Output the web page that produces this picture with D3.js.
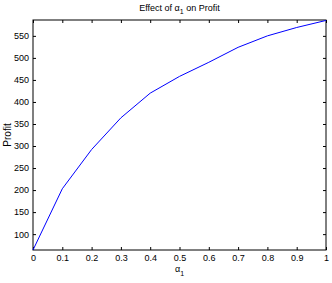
<!DOCTYPE html>
<html>
<head>
<meta charset="utf-8">
<script src="https://cdn.jsdelivr.net/npm/d3@7"></script>
<style>
  body { margin: 0; background: #fff; }
  text { font-family: "Liberation Sans", Arial, sans-serif; }
</style>
</head>
<body>
<svg id="drawing_region"></svg>
<script>
// values
const alpha = [0, 0.1, 0.2, 0.3, 0.4, 0.5, 0.6, 0.7, 0.8, 0.9, 1.0];
const profit = [64, 203, 292, 364, 420, 458, 490, 524, 550, 569, 585];
const xTicks = [0, 0.1, 0.2, 0.3, 0.4, 0.5, 0.6, 0.7, 0.8, 0.9, 1];
const yTicks = [100, 150, 200, 250, 300, 350, 400, 450, 500, 550];

const width = 332, height = 283;
const margin = { top: 20, right: 6, bottom: 33, left: 33 };

const svg = d3.select('#drawing_region')
    .attr('width', width)
    .attr('height', height)
    .style('display', 'block');

const inner_width = width - margin.left - margin.right;
const inner_height = height - margin.top - margin.bottom;

const chart = svg.append('g')
    .attr('transform', `translate(${margin.left}, ${margin.top})`);

const xscale = d3.scaleLinear().domain([0, 1]).range([0, inner_width]);
const yscale = d3.scaleLinear().domain([64, 586]).range([inner_height, 0]);

const fmt = d => d === 0 ? '0' : d === 1 ? '1' : d3.format('.1f')(d);

// matlab style: ticks point inward on all four sides
const styleAxis = g => {
    g.selectAll('.domain').remove();
    g.selectAll('line').attr('stroke', '#000');
    g.selectAll('text')
        .style('font-family', '"Liberation Sans Narrow", "Liberation Sans", sans-serif')
        .style('font-size', '9px')
        .attr('fill', '#000');
};

chart.append('g')
    .attr('transform', `translate(0, ${inner_height})`)
    .call(d3.axisBottom(xscale).tickValues(xTicks).tickFormat(fmt).tickSizeInner(-3).tickSizeOuter(0).tickPadding(5))
    .call(styleAxis);

chart.append('g')
    .call(d3.axisTop(xscale).tickValues(xTicks).tickFormat('').tickSizeInner(-3).tickSizeOuter(0))
    .call(styleAxis);

chart.append('g')
    .call(d3.axisLeft(yscale).tickValues(yTicks).tickSizeInner(-3).tickSizeOuter(0).tickPadding(4))
    .call(styleAxis);

chart.append('g')
    .attr('transform', `translate(${inner_width}, 0)`)
    .call(d3.axisRight(yscale).tickValues(yTicks).tickFormat('').tickSizeInner(-3).tickSizeOuter(0))
    .call(styleAxis);

// box
chart.append('rect')
    .attr('x', 0).attr('y', 0)
    .attr('width', inner_width).attr('height', inner_height)
    .attr('fill', 'none')
    .attr('stroke', '#000')
    .attr('stroke-width', 1);

// line
const line = d3.line()
    .x((d, i) => xscale(alpha[i]))
    .y(d => yscale(d));

chart.append('path')
    .datum(profit)
    .attr('d', line)
    .attr('fill', 'none')
    .attr('stroke', '#0000ff')
    .attr('stroke-width', 1);

// title
const title = svg.append('text')
    .attr('x', margin.left + inner_width / 2)
    .attr('y', 11)
    .attr('text-anchor', 'middle')
    .style('font-size', '9px');
title.append('tspan').text('Effect of α');
title.append('tspan').attr('dy', 3).style('font-size', '7px').text('1');
title.append('tspan').attr('dy', -3).text(' on Profit');

// x label
const xl = svg.append('text')
    .attr('x', margin.left + inner_width / 2)
    .attr('y', height - 11)
    .attr('text-anchor', 'middle')
    .style('font-size', '9px');
xl.append('tspan').text('α');
xl.append('tspan').attr('dy', 4).style('font-size', '7px').text('1');

// y label
svg.append('text')
    .attr('transform', `translate(11, ${margin.top + inner_height / 2}) rotate(-90)`)
    .attr('text-anchor', 'middle')
    .style('font-family', '"Liberation Sans Narrow", "Liberation Sans", sans-serif')
    .style('font-size', '10px')
    .text('Profit');
</script>
</body>
</html>
